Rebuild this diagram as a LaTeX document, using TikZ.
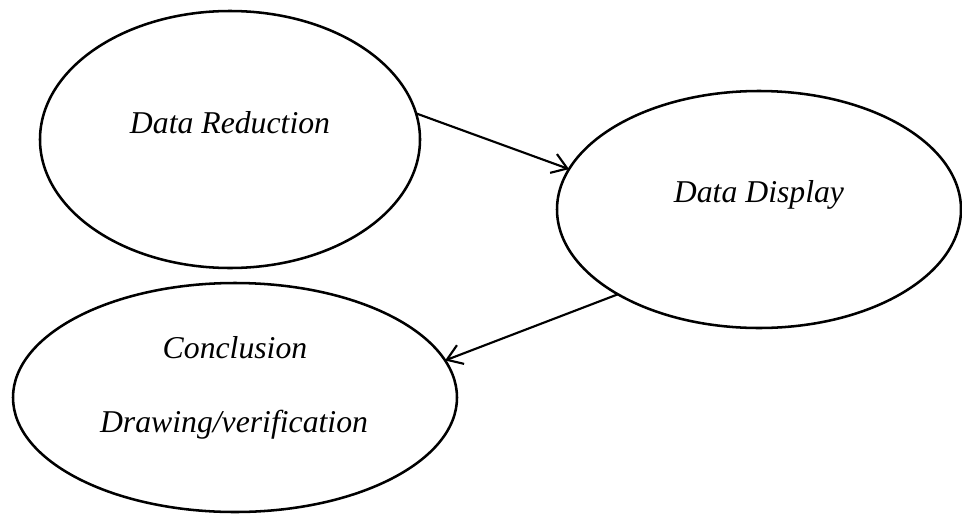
\documentclass[tikz,border=0pt]{standalone}
\usepackage{fontspec}
\setmainfont{Liberation Serif}
\usetikzlibrary{arrows.meta, shapes.geometric}

\begin{document}
\begin{tikzpicture}[
   x=0.75pt, y=-0.75pt, >={Straight Barb[length=11pt, width=15pt]},
   oval/.style={draw, ellipse, line width=1.9pt, inner sep=0pt, outer sep=0pt},
   txt/.style={font=\fontsize{23.8}{28}\selectfont\itshape, anchor=base, inner sep=0pt},
   link/.style={->, line width=1.6pt}]
  \useasboundingbox (0,0) rectangle (962,514);
  % the three stages
  \node[oval, minimum width=285pt, minimum height=192.75pt] (reduct) at (230,139.5) {};
  \node[oval, minimum width=303pt, minimum height=177.75pt] (display) at (759,209.5) {};
  \node[oval, minimum width=333pt, minimum height=171.75pt] (concl) at (235,397.5) {};
  \node[txt] (reductlab) at (230,133) {Data Reduction};
  \node[txt] (displaylab) at (759,202) {Data Display};
  \node[txt] (concllab) at (235,358) {Conclusion};
  \node[txt] (verilab) at (234,432) {Drawing/verification};
  \draw[link] (reduct.8) -- (display.168);
  \draw[link] (display.211) -- (concl.10);
\end{tikzpicture}
\end{document}
